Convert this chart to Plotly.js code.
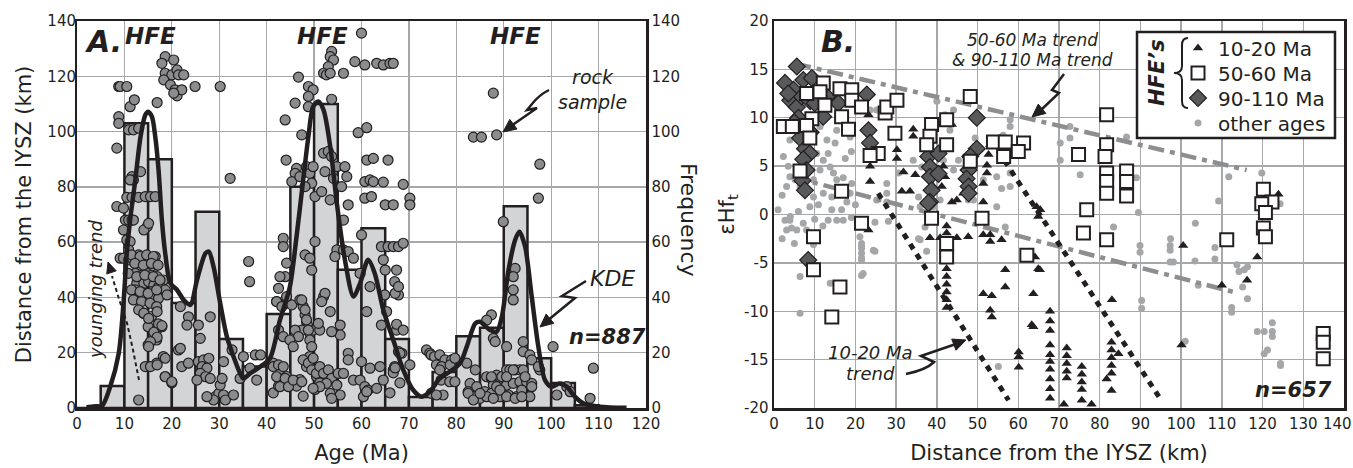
<!DOCTYPE html>
<html><head><meta charset="utf-8">
<script src="https://cdn.plot.ly/plotly-3.0.1.min.js"></script>
<style>html,body{margin:0;padding:0;background:#fff;} #chart{width:1353px;height:468px;}</style>
</head><body><div id="chart"></div>
<script>
// ---------------- Panel A data ----------------
const binCenters = [2.5,7.5,12.5,17.5,22.5,27.5,32.5,37.5,42.5,47.5,52.5,57.5,62.5,67.5,72.5,77.5,82.5,87.5,92.5,97.5,102.5,107.5];
const binFreq    = [0,8,103,90,38,71,25,15,34,80,110,50,65,25,4,13,26,29,73,18,9,1];

const kdeAge  = [2,4,5.3,7,8.8,9.8,10.5,11.2,12.3,13.4,14.4,15,15.8,16.5,17.2,17.9,18.6,19.7,21.1,22.5,23.9,25.3,27.1,27.8,28.8,30.2,31.6,33,34.4,35.1,36.5,38.7,40.7,42.8,44.9,46.3,47.7,48.8,49.8,50.9,52,53.4,54.8,56.5,58.3,59.7,61.4,62.8,64.6,66.7,68.8,70.9,72.7,74.4,76.5,78.6,80.8,82.2,84,85,87.1,88.5,89.6,91,92.4,93.3,94.5,95.9,97.3,98.7,100.1,101.8,103.3,105,106.8,110.3,115.9];
const kdeFreq = [0.3,0.6,0.8,7.7,19.8,37.9,56,68,82.5,98.2,106,107.2,105.4,98.2,86.1,68,56,45.1,42.7,39.1,37.3,46.3,56,56.6,51.1,37.9,25.8,18.6,12.5,10.7,12.5,15,18,31.8,43.9,62,82.5,98.2,109,110.9,107.8,94.6,74.1,53.6,40.3,45.1,53.6,48.7,35.5,24.6,13.8,6.5,4.1,5.9,10.7,13.1,16.2,22.2,30.6,31.2,28.2,27.6,33,49.9,60.8,63.8,58.4,40.3,22.2,10.1,7.7,8.9,7.7,4.1,1.7,0.5,0.1];

// [age (Ma), distance from IYSZ (km)]
const zirconPts = [
[8.8,116.3],[9.1,116.3],[10.5,116.3],[11.2,109],[12.1,111.5],[16.9,110.5],[8.8,105.4],[8.8,103],[8.4,94],[10.9,100.6],[11.9,100.6],[13,101.2],
[18.6,127.1],[20.4,125.9],[17.9,124.7],[18.6,121.1],[20,120.5],[21.1,122.3],[21.4,120.5],[22.5,120.5],[18.3,118.7],[19.7,116.9],[20.7,115.1],[21.1,112.9],[22.1,115.1],[20.4,113.9],[24.9,116.3],[30.2,116.3],[32.3,83.1],
[11.6,83.7],[13.4,85.5],[11.9,82.5],[11.2,82.5],
[10.5,76.2],[11.6,76.2],[13,76.2],[14.4,76.5],[15.5,76.5],[16.5,76.5],
[8.4,72.9],[9.8,72.3],[10.2,68],[10.9,68],[11.6,68],[9.8,64.4],[11.9,68],[14.8,65.6],[14.1,64.4],[15.1,66.8],
[10.5,60.8],[11.2,60.2],[10.9,57.2],[9.1,54.2],[9.8,54.2],[10.9,53.6],[11.6,54.2],[13,55.4],[13.4,53.6],[14.1,54.2],[14.8,53.6],[15.8,54.2],[16.5,54.8],[16.9,51.7],[13.7,50.5],
[12.3,48.7],[13,47.5],[13.7,48.1],[14.8,48.7],[15.8,48.1],[16.9,47.5],[17.6,45.7],[18.3,46.3],[12.6,45.1],[14.1,45.1],[15.1,45.7],[16.2,44.5],[17.2,43.9],[12.3,42.7],[13.4,42.1],[14.4,41.5],[15.8,42.1],[16.9,42.7],[17.9,43.3],[18.6,42.7],[13,39.7],[14.1,39.1],[15.1,38.5],[16.2,40.3],[17.2,39.7],[19,40.9],
[11.5,55.4],[13.3,54.8],[14.7,55.4],[16.1,54.8],[12.2,52.3],[14,51.7],[15.7,52.3],[17.1,51.7],[10.8,48.7],[12.6,47.5],[14.3,48.1],[16.1,47.5],[17.5,46.3],[11.5,42.7],[13.3,42.1],[15,41.5],[16.8,42.7],[11.9,39.1],[13.6,38.5],[15.4,37.9],[16.8,36.7],[14,34.3],[15.7,33.1],[15,29.4],[16.8,28.2],[15,22.8],[16.8,24.6],[17.9,29.4],[18.2,18.6],[15,15],[16.8,16.2],[18.6,11.4],[20,9.1],
[13,35.5],[14.1,34.3],[15.1,32.4],[16.9,34.9],[17.2,30.4],[17.9,29.8],[16.2,27.4],[16.9,25.6],[15.5,24],[15.1,22.2],
[21.8,36.7],[23.5,33],[23.2,30],[25.6,30],[26,25.2],[28.1,33],
[14.4,15],[15.5,15],[18.6,18],[16.9,15.6],[18.6,11.3],[20,9.5],[13,2.9],
[21.4,21],[21.8,21.6],[22.1,15],[23.5,16.2],
[25.6,16.8],[26.7,17.4],[27.8,18],[26.4,15],[27.4,14.4],[26,12.5],[27.1,11.3],[25.3,10.1],[28.1,10.7],[29.2,4.1],[29.9,5.3],[30.9,4.7],[30.2,8.3],[30.6,10.7],[31.3,2.9],[28.8,2.9],[27.4,4.1],[33,4.7],
[30.9,16.8],[32.7,21],[35.1,18.6],[34.4,10.7],[37.9,10.1],[36.5,14.4],[37.6,19.2],[38.7,19.2],[36.2,53],[36.4,45.7],
[60,135.6],[53.7,129],[53.4,127.1],[54.1,125.9],[53,123.5],[52,121.1],[52.6,120.5],[53.4,121.1],[56.2,121.1],[58.6,125.3],[60.7,124.1],[63.2,124.7],[64.6,124.1],[66,124.7],[66.7,124.7],
[46.7,119.7],[48.8,116.3],[49.8,115.1],[48.8,112.7],[48.8,109],[46,110.3],[43.9,104.2],[53.7,111.7],[47.4,98.8],[59.3,99.6],[61.1,101.4],
[44.1,89.7],[46.3,86.7],[46,84.9],[45.3,81.9],[47,83.7],[48.4,87.3],[49.1,84.9],[49.8,87.3],[49.5,81.3],[48.1,80.1],[52,92.2],[53,92.8],[53.7,91],[52.3,85.5],[54.1,83.1],[54.8,87.3],[56.5,87.3],[55.8,80.1],[56.9,83.7],[50.2,76.5],[51.6,78.3],[53.4,75.3],
[61.1,89.7],[62.5,90.3],[65.6,89.7],[60.7,81.9],[61.8,82.5],[62.5,81.9],[64.6,81.7],[68.8,80.9],[60.7,75.9],[62.1,76.5],[65,73.5],[66.7,73.5],[70.2,75.9],[70.2,73.5],
[43.5,61.4],[43.5,58.4],[57.2,73.5],[56.2,68],[50.2,60.2],[48.1,55.4],[49.1,54.2],[49.5,49.9],[54.8,57.2],[56.2,57.2],[57.2,56.6],[54.4,54.8],[58.3,54.2],[60,62.6],
[64.2,58.4],[65.6,58.4],[66.7,58.4],[67.8,58.4],[68.8,59.6],[64.6,53.6],[65,49.9],[67.4,49.9],[67,45.7],[67.8,40.9],[59.7,48.7],[61.8,43.9],
[44.2,52.4],[43.9,47.5],[42.8,47.5],[42.5,43.3],[42.1,38.5],
[44.2,37.9],[45.3,37.3],[47,39.1],[47.7,36.7],[48.1,33.7],[48.4,31.2],[48.8,29.4],[49.1,27],[47.4,28.2],[46,28.2],[46.7,25.8],[49.8,28.2],[51.2,28.2],[50.9,30.6],[52,40.3],[52.3,41.5],[51.6,38.5],[53.4,34.9],[55.5,30],[55.5,26.4],[53.7,27.6],
[61.1,34.9],[64.2,30],[67.4,28.2],[67.8,20.4],[67,14.4],
[42.1,38.5],[43.2,36.7],[44.2,40.3],[42.5,28.2],[43.5,25.8],[44.9,24.6],[45.6,22.2],[41.4,16.2],[42.8,13.8],[44.2,11.4],[45.6,9.1],[41.4,5.5],[42.5,7.9],[47.4,39.1],[48.1,35.5],[48.4,31.9],[48.8,28.2],[49.1,24.6],[49.5,22.2],[49.1,18.6],[48.4,15],[49.8,13.8],[50.5,11.4],[51.2,9.1],[50.2,6.7],[47,10.3],[46.3,7.9],[47.7,4.3],
[41.4,15],[42.5,15.6],[43.5,15],[42.1,11.3],[43.9,10.7],[42.8,7.7],[44.6,7.7],[45.6,10.1],[47.4,9.5],[47.7,17.4],[48.8,16.2],[49.8,18],[49.5,13.8],[50.5,12.5],[51.2,15],[52,12.5],[53,13.8],[53.7,10.7],[52.6,8.9],[51.2,7.7],[49.8,7.1],[55.1,12.5],[56.2,12.5],[54.8,8.3],[57.2,19.8],[57.2,17.4],[58.3,10.1],[60,16.8],[59.7,10.1],[60.7,7.7],[61.8,14.4],[61.4,6.5],[63.2,7.1],[64.6,10.1],[63.9,15],[66.7,13.8],[67,15],[68.5,19.8],[53.4,5.3],[55.5,4.7],[53.7,3.5],[60.4,4.1],[61.1,5.9],
[68.1,9.1],[66.7,12.7],[67.1,14.5],[68.1,19.8],[70.2,15.6],[66,5.5],[67.4,30.3],[68.8,28.2],[65.3,34.9],[64.9,40.9],[67.1,41.5],[67.8,43.9],
[73.7,21],[74.4,19.8],[74.7,19.2],[75.4,18.6],[76.5,19.2],[77.6,17.4],[79,17.4],[75.8,15.6],[76.9,15],[78.7,15.6],[76.5,13.8],[77.2,4.7],[74.7,5.3],[75.8,4.7],[76.8,10.1],[78.6,9.5],[79.7,18],[79.7,9.5],
[87.8,113.9],[83.6,98],[85.3,98],[88.5,98.8],[97.6,88.2],[97.3,75.9],[89.9,67.4],[92.4,50.5],[92,47.5],[92,42.7],[92,39.1],[87.4,33.7],[86.4,31.8],[87.8,25.2],[88.2,24],[90.6,22.2],[94.1,24],[94.1,20.4],[95.5,19.2],[95.9,17.4],[97.6,13.8],[100.4,22.2],[108.9,14.4],
[82.2,16.2],[84,13.8],[82.9,8.9],[84.3,7.7],[82.5,5.9],[85,3.5],[86.4,11.3],[87.4,10.7],[88.5,11.9],[89.6,11.3],[90.6,13.8],[91.3,13.8],[92.4,13.8],[93.4,13.8],[94.1,13.8],[87.8,8.3],[89.2,7.7],[90.6,8.3],[92,8.9],[93.4,9.5],[94.8,9.5],[95.9,8.9],[86,5.9],[87.4,5.3],[89.2,4.1],[91,4.7],[92.7,4.1],[93.8,6.5],[95.5,4.1],[97.3,15],[83.6,4.1],[101.2,4.7],[103.3,7.7],[104,5.9],[108.2,3.5],
[87.4,11.3],[88.5,7.7],[89.2,6.5],[90.6,11.3],[92,13.8],[94.5,11.3],[95.9,7.7],[86.4,4.1],[87.8,3.5],[90.6,4.1],[92.4,3.5],[93.8,4.1],[82.5,5.3],[83.6,2.9],[85,5.3]
];

// ---------------- Panel B data ----------------
// [distance from IYSZ (km), eHf(t)]
const hfe1020 = [
[23.2,10.3],[23.6,5],[23.6,3.4],[23.2,-1.6],[30.2,6.7],[30.2,5.8],[31.8,4.4],[34.7,4.1],[31.4,2.4],[33.4,2.4],[34.2,8.8],[34.2,8.1],[40.8,9.3],[41.6,9.6],[43.7,9.3],[41.6,5],[40,3.9],[42,3.9],[41.2,2.9],[38.3,5.3],[39.1,2.9],[43.7,1.3],[44.9,1.5],[46.5,2.2],[51.4,1.3],[52.7,6.2],[52.3,5.1],[52.3,4.3],[51.4,3.2],[53.1,7.2],[42.4,-1.2],[42.4,-1.9],[38.3,-2.4],[40.8,-2.4],[44.9,-2.4],[47.7,-2.3],[51.4,-2.1],[53.1,-2.8],[55.9,-2.6],[53.1,-2.1],
[42.4,-4],[42.4,-4.8],[42.4,-5.6],[42.4,-6.4],[42.4,-7.2],[42.4,-8],[42.4,-8.8],[42.4,-9.6],
[56.8,-5.7],[56.8,-7.5],[51.4,-8.2],[53.5,-8.4],[53.1,-9.9],[53.5,-10.6],[63.7,-8.2],[64.9,-5.6],[64.1,-4.4],[63.3,-11.4],[60.1,-14.2],[60.1,-14.7],[60.1,-15.8],
[67.8,-10],[67.8,-11],[67.8,-12],[67.8,-13.5],[67.8,-14.5],[67.8,-15.2],[67.8,-16],[67.8,-17],[67.8,-18],[67.8,-19],
[71.9,-13.8],[71.9,-14.6],[71.9,-15.4],[71.9,-16.2],[71.9,-16.9],[71.2,-19.6],
[75.6,-15.7],[75.6,-16.5],[75.6,-17.3],[75.6,-18.1],[75.6,-19.2],[78,-19.6],
[83,-8.8],[82.9,-13.2],[82.9,-14],[82.9,-14.8],[82.9,-15.6],[82.9,-16.4],[81.7,-17],[82.9,-18.2],[84.6,-14.4],[65.3,-5.7],[63.7,-11.6],
[100.5,-3.2],[100.1,-13.5],[110,-7.3],[116.2,-6.8],[118.7,-4.4],[120.2,1.6],[123.9,2.1],[120.2,0],
[64.5,0.8],[65.4,0.5],[64.9,-0.2]
];
const hfe5060 = [
[12.1,13.6],[11.3,12.7],[8,12.5],[12.5,11.3],[16.2,13],[19.1,12.9],[19.1,11.8],[16.6,10.1],[9.3,9.9],[2.3,9.1],[4.5,9.1],[8,9.2],[8.8,7.9],[18.3,8.8],[6.4,4.5],[21.5,11.1],[27.3,10.5],[27.7,11.1],[30.2,11.8],[29.7,8.4],[25.6,6.3],[23.6,6.1],[38.7,9.3],[38.3,8.1],[37.5,7.2],[42.4,9.8],[42.4,7.2],[48.2,12.2],[48.2,5.5],[53.9,7.5],[56.8,7.5],[61.3,7.4],[60,6.5],[56.4,6],[16.6,2.4],[21.5,-0.9],[38.7,-0.4],[51.1,-0.4],[9.7,-2.3],[42.4,-3],[42.4,-4.4],[62.1,-4.2],[9.7,-5.7],[16.2,-7.5],[14.2,-10.6],
[81.7,10.3],[81.7,7.2],[74.8,6.2],[81.3,6],[81.7,4.3],[81.7,3.4],[81.7,2.2],[86.6,4.5],[86.6,3.4],[86.6,1.9],[76.8,0.5],[76,-1.9],[81.7,-2.6],[111.2,-2.6],
[120.2,2.6],[122.3,1.3],[119.8,1.1],[120.7,0.2],[120.2,-1.4],[120.7,-2.3],
[134.9,-12.3],[134.9,-13.2],[134.9,-14.9]
];
const hfe90110 = [
[5.6,15.3],[2.7,13.6],[4.8,12.9],[7.2,13.9],[9.3,14.1],[4,11.8],[5.6,11.1],[6.8,12.2],[8.9,11.7],[10,11.5],[15.8,11.5],[13,12.2],[12.1,10.1],[3.5,12.5],[6,10],[9,8.5],[5,9.5],[7,3.5],
[22.8,12.4],[23.2,8.7],[23.6,7.4],[6.4,7.9],[7.6,6.8],[8.8,6.3],[7.2,5.7],[8,4.6],[7.6,2.5],[8.4,-4.7],
[49.8,10],[49.8,6.8],[48.2,6],[47.8,4.6],[47.3,3.7],[47.8,2.9],[47.8,2.2],[37.9,6],[38.3,4.9],[38.3,3.9],[38.7,2.5],[38.3,1.3],[40.4,6.3],[40.4,4.2],[37.9,1.2]
];
const otherAges = [
[2.3,6],[3.5,5],[3.9,3.9],[3.1,2.9],[5.2,3.6],[6.4,2.9],[9.7,3.6],[11.3,4.6],[12.1,5.6],[13.3,6.3],[13.8,4.9],[14.6,4.3],[15.4,3.6],[12.1,2.2],[9.7,1.8],[10.9,1],[8.8,0.8],[14.2,1.8],[14.2,0.5],[13.3,-0.6],[15.4,-0.6],[16.6,0.5],[17,-0.6],[17.9,1.3],[18.7,2.2],[19.1,3.2],
[2.7,-0.6],[3.9,-0.6],[4.3,-1.4],[5.6,-1.6],[7.2,-0.9],[8,-1.6],[3.1,-1.6],[2,2],[1,0.5],[4,-0.2],[6,0.3],[10,-0.5],[12,-1.2],[17,3.8],[19,-0.3],[20,1],[2,-2.5],[5,-3],[17.5,5.8],[19,6.5],[10.5,6.3],
[21.1,-2.3],[21.5,-3.3],[21.5,-4],[21.5,-4.7],[21.9,-6.1],[24.4,-3.7],[24.8,-0.8],[21.5,-3],[21.5,-3.5],[21.5,-4.5],[21.5,-6.3],[24.8,-3.8],
[6.4,-6.4],[6.4,-10.2],[13.8,-7.1],[9.7,-3.1],
[27.7,3.2],[27.7,2.2],[27.7,1.3],[25.2,1.5],[28.1,-0.7],
[30.6,4.3],[34.2,5.6],[36.3,4.9],[35.5,1.8],[35.9,0.8],[35.5,-2.5],[37.1,-1.3],[35.9,-2.6],[37.5,-3.8],
[23.6,10.8],[25.2,10.8],[18.7,8],[15,7.4],[13,7.7],[15.4,8.7],[11.3,9.1],[5.2,10.1],[3.9,9.4],[3.9,7.7],
[44.1,4.6],[45.3,5.6],[46.9,3.6],[49,1.5],[47.7,1.5],[51.4,3.6],[54.7,3.9],[55.9,2.7],[54.7,0.8],[58,4.3],[58,9.8],[58,9.1],[56.3,8.2],[58,2.9],[56.8,-1.3],[49.4,7.9],
[44.1,10.8],[42,10.3],[40,11.7],[43.2,8.7],[41.6,5.6],[40.8,1.5],[39.1,0.8],
[55.1,-15.7],[70.3,7.4],[70.3,5.6],
[72.7,9.1],[72.7,7.9],[75.2,4.1],[86.6,8],[89,3.8],[89.5,0.2],[83.4,-1.3],[97.4,-2.5],[103.5,-0.9],[109.2,1.4],[111.7,3.9],[119.8,4.3],[124.3,1.1],
[89.9,-3.2],[89.9,-3.9],[97.3,-3.2],[97.3,-3.7],[97.3,-4.9],[98.1,-4.9],[103.4,-4.8],[108.3,-3.4],[108.3,-4.6],[104.2,-7.3],[90.3,-8.9],[90.3,-9.7],[112.4,-9.6],[112.4,-10.1],[113.7,-5.2],[114.2,-5.9],[115.5,-5.7],[116.3,-5.4],[115.1,-7.5],[116.3,-8.7],[118.7,-12.1],[120.4,-12.1],[122.4,-12.1],[122.4,-12.6],[121.2,-14],[120.4,-14.4],[124.4,-15.4],[124.4,-15.6],[122.4,-11.2],[101,-13.1]
];

// trend lines (end points)
const trendUpperX = [5.2,116.1],  trendUpperY = [15.6,4.6];
const trendLowerX = [4.3,112.8],  trendLowerY = [3.9,-8.0];
const trendA1020X = [25.6,57.6],  trendA1020Y = [2.2,-19.2];
const trendB1020X = [55.0,94.8],  trendB1020Y = [6.6,-19.0];

const ehfTickVals = [-20,-15,-10,-5,0,5,10,15,20];
const ehfTickText = ['-20','-15','-10','-5','0','5','10','15','20'];
const distTickVals = [0,10,20,30,40,50,60,70,80,90,100,110,120,130];   // "140" is drawn just inside the page edge

// ---------------- styling / layout ----------------
const INK = '#231f20';
const FONT = 'DejaVu Sans';
const L = 77, T = 21, W = 1267, H = 387;
const PX = p => (p - L) / W;
const PY = p => 1 - (p - T) / H;
function pathPx(cmds){
  return cmds.map(c => c[0] + ' ' + c.slice(1).map((v,i)=> (i%2===0?PX(v):PY(v)).toFixed(5)).join(',')).join(' ');
}
function arrowHead(tx,ty,fx,fy,len,hw){
  const dx=tx-fx, dy=ty-fy, d=Math.hypot(dx,dy), ux=dx/d, uy=dy/d;
  const bx=tx-ux*len, by=ty-uy*len;
  return {type:'path', xref:'paper', yref:'paper', layer:'above',
    path: pathPx([['M',tx,ty],['L',bx-uy*hw,by+ux*hw],['L',bx+uy*hw,by-ux*hw]])+' Z',
    fillcolor: INK, line:{color:INK,width:1}};
}
function linePath(cmds,w,dash){
  return {type:'path', xref:'paper', yref:'paper', layer:'above', path: pathPx(cmds),
    line:{color:INK,width:w,dash:dash||'solid'}};
}

const traces = [
  {type:'bar', x:binCenters, y:binFreq, width:5, xaxis:'x', yaxis:'y',
   marker:{color:'#d3d4d6', line:{color:INK,width:2.5}}, showlegend:false, hoverinfo:'skip'},
  {type:'scatter', mode:'markers', x:zirconPts.map(p=>p[0]), y:zirconPts.map(p=>p[1]), xaxis:'x', yaxis:'y2',
   marker:{symbol:'circle', size:10, color:'#8b8c8e', line:{color:INK,width:1.2}}, showlegend:false},
  {type:'scatter', mode:'lines', x:kdeAge, y:kdeFreq, xaxis:'x', yaxis:'y3',
   line:{color:INK,width:4.5,shape:'spline',smoothing:0.8}, showlegend:false},

  {type:'scatter', mode:'markers', name:'other ages', legend:'legend4', x:otherAges.map(p=>p[0]), y:otherAges.map(p=>p[1]), xaxis:'x2', yaxis:'y4',
   marker:{symbol:'circle', size:7, color:'#a5a6a8'}},
  {type:'scatter', mode:'lines', x:trendUpperX, y:trendUpperY, xaxis:'x2', yaxis:'y4', showlegend:false,
   line:{color:'#8d8e90', width:4.5, dash:'16px,6px,5px,6px'}},
  {type:'scatter', mode:'lines', x:trendLowerX, y:trendLowerY, xaxis:'x2', yaxis:'y4', showlegend:false,
   line:{color:'#8d8e90', width:4.5, dash:'16px,6px,5px,6px'}},
  {type:'scatter', mode:'lines', x:trendA1020X, y:trendA1020Y, xaxis:'x2', yaxis:'y4', showlegend:false,
   line:{color:INK, width:5, dash:'6px,6px'}},
  {type:'scatter', mode:'lines', x:trendB1020X, y:trendB1020Y, xaxis:'x2', yaxis:'y4', showlegend:false,
   line:{color:INK, width:5, dash:'6px,6px'}},
  {type:'scatter', mode:'markers', name:'10-20 Ma', legend:'legend', x:hfe1020.map(p=>p[0]), y:hfe1020.map(p=>p[1]), xaxis:'x2', yaxis:'y4',
   marker:{symbol:'triangle-up', size:9, color:INK}},
  {type:'scatter', mode:'markers', name:'90-110 Ma', legend:'legend3', x:hfe90110.map(p=>p[0]), y:hfe90110.map(p=>p[1]), xaxis:'x2', yaxis:'y4',
   marker:{symbol:'diamond', size:13, color:'#58595b', line:{color:INK,width:1.2}}},
  {type:'scatter', mode:'markers', name:'50-60 Ma', legend:'legend2', x:hfe5060.map(p=>p[0]), y:hfe5060.map(p=>p[1]), xaxis:'x2', yaxis:'y4',
   marker:{symbol:'square', size:13, color:'#ffffff', line:{color:INK,width:2}}}
];

const gridC = '#a7a8aa';
const tickF = {family:FONT, size:15, color:INK};
const titleF = {family:FONT, size:21, color:INK};
const frame = {showline:true, mirror:true, linecolor:INK, linewidth:2.5, ticks:'', zeroline:false, fixedrange:true};

function legendAt(rowY){
  return {x:PX(1178), y:PY(rowY), xanchor:'left', yanchor:'middle', bgcolor:'rgba(0,0,0,0)', borderwidth:0,
     font:{family:FONT, size:20, color:INK}, itemsizing:'trace'};
}

const layout = {
  width:1353, height:468, paper_bgcolor:'#fff', plot_bgcolor:'#fff',
  margin:{l:L, r:9, t:T, b:60},
  font:{family:FONT, color:INK},
  xaxis: Object.assign({}, frame, {domain:[0, PX(646)], anchor:'y', range:[0,120], tick0:0, dtick:10,
     showgrid:true, gridcolor:gridC, gridwidth:1.3, tickfont:tickF,
     title:{text:'Age (Ma)', font:titleF, standoff:14}}),
  yaxis: Object.assign({}, frame, {anchor:'x', side:'right', range:[0,140], tick0:0, dtick:20,
     showgrid:true, gridcolor:gridC, gridwidth:1.3, tickfont:tickF}),
  yaxis2: {overlaying:'y', anchor:'x', side:'left', range:[0,140], tick0:0, dtick:20, showgrid:false,
     zeroline:false, ticks:'', showline:false, tickfont:tickF, fixedrange:true,
     title:{text:'Distance from the IYSZ (km)', font:titleF, standoff:10}},
  yaxis3: {overlaying:'y', anchor:'x', range:[0,140], visible:false, fixedrange:true},
  xaxis2: Object.assign({}, frame, {domain:[PX(774), 1], anchor:'y4', range:[0,140], tickvals:distTickVals,
     showgrid:true, gridcolor:gridC, gridwidth:1.3, tickfont:tickF,
     title:{text:'Distance from the IYSZ (km)', font:titleF, standoff:14}}),
  yaxis4: Object.assign({}, frame, {anchor:'x2', range:[-20,20], tickvals:ehfTickVals, ticktext:ehfTickText,
     showgrid:true, gridcolor:gridC, gridwidth:1.3, tickfont:tickF,
     title:{text:'εHf<sub>t</sub>', font:titleF, standoff:4}}),
  showlegend:true,
  legend: legendAt(48),
  legend2: legendAt(73),
  legend3: legendAt(98),
  legend4: legendAt(123),
  shapes: [
    {type:'rect', xref:'paper', yref:'paper', layer:'above', x0:PX(1137), x1:PX(1335), y0:PY(138), y1:PY(32),
     fillcolor:'#ffffff', line:{color:INK, width:2.5}},
    // brace in legend box
    linePath([['M',1188,38],['Q',1182,38,1182,45],['L',1182,66],['Q',1182,73,1174,73],['Q',1182,73,1182,80],['L',1182,101],['Q',1182,108,1188,108]],2),
    // rock sample arrow
    linePath([['M',549,90],['Q',539,95,532,104],['L',527,110],['L',537,108],['L',511,126]],2.5),
    arrowHead(503,132,515,123,13,6),
    // KDE arrow
    linePath([['M',586,281],['L',562,296],['L',575,298],['L',547,321]],2.5),
    arrowHead(540,327,552,317,13,6),
    // younging trend dashed arrow
    linePath([['M',139,380],['L',133,350],['L',127,323],['L',119,299],['L',112,276]],2,'4px,3px'),
    arrowHead(108,262,113,277,11,5),
    // 50-60 & 90-110 trend arrow
    linePath([['M',1064,74],['L',1052,90],['L',1059,93],['L',1041,110]],2.5),
    arrowHead(1032,117,1043,108,13,6),
    // 10-20 trend arrow
    linePath([['M',906,374],['Q',926,370,934,362],['L',921,356],['L',956,344]],2.5),
    arrowHead(966,340,953,345,13,6)
  ],
  annotations: []
};

function ann(text, x, y, font, opts){
  return Object.assign({text:text, xref:'paper', yref:'paper', x:PX(x), y:PY(y), xanchor:'center', yanchor:'middle',
    showarrow:false, font:Object.assign({family:FONT, color:INK}, font)}, opts||{});
}
const BI = s => ({size:s, weight:'bold', style:'italic'});
const IT = s => ({size:s, style:'italic'});
layout.annotations.push(
  ann('A.', 103, 42, BI(30)),
  ann('HFE', 150, 36, BI(23)),
  ann('HFE', 322, 36, BI(23)),
  ann('HFE', 515, 36, BI(23)),
  ann('rock<br>sample', 592, 89, IT(19), {align:'center'}),
  ann('KDE', 612, 278, IT(22)),
  ann('n=887', 607, 337, BI(21)),
  ann('younging trend', 95, 290, IT(18), {textangle:-90}),
  ann('Frequency', 689, 220, {size:22}, {textangle:90}),
  ann('B.', 838, 42, BI(30)),
  ann('50-60 Ma trend', 1032, 40, IT(17)),
  ann('&amp; 90-110 Ma trend', 1032, 60, IT(17)),
  ann('10-20 Ma', 870, 352, IT(18)),
  ann('trend', 870, 373, IT(18)),
  ann('n=657', 1293, 390, BI(21)),
  ann('HFE’s', 1157, 73, BI(21), {textangle:-90}),
  ann('140', 1337, 424, {size:15})
);

Plotly.newPlot('chart', traces, layout, {displayModeBar:false, staticPlot:true});
</script></body></html>
